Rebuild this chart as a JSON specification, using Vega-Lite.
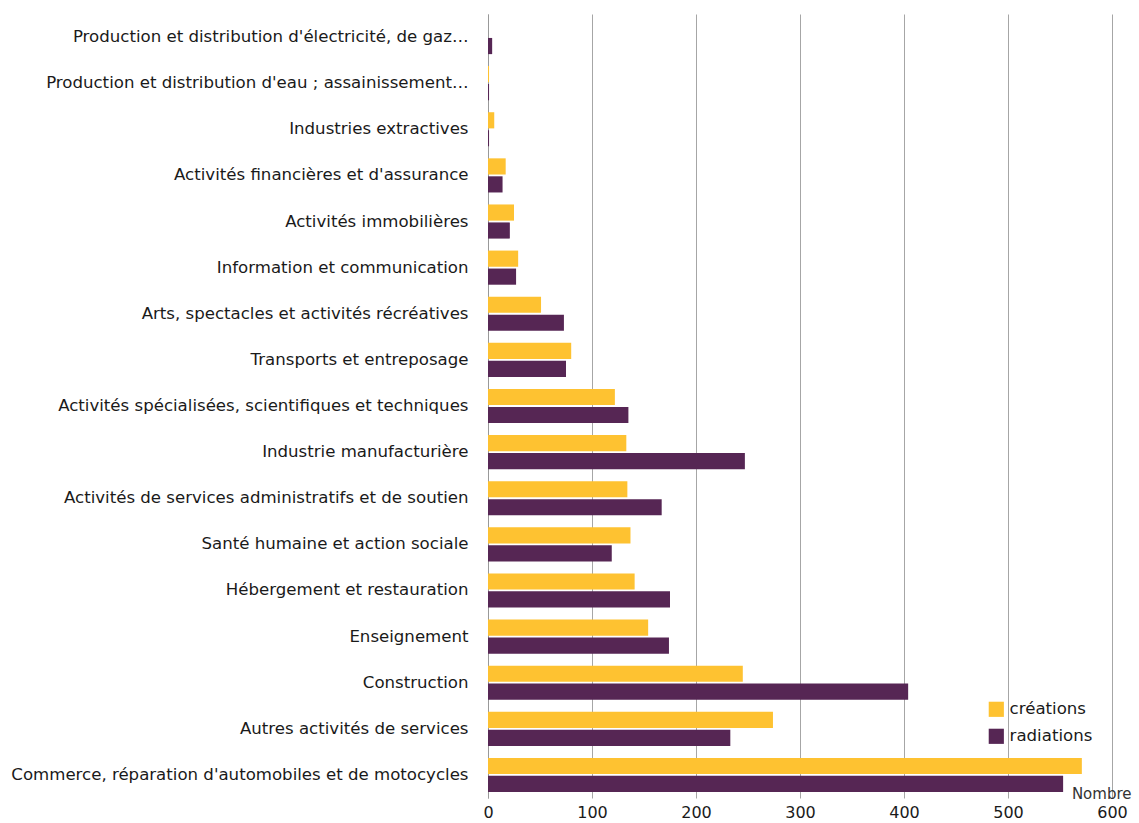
{
  "$schema": "https://vega.github.io/schema/vega-lite/v6.json",
  "width": 624,
  "height": 784,
  "autosize": {"type": "none"},
  "padding": {"left": 488, "top": 14, "right": 27, "bottom": 25},
  "background": "white",
  "data": {
    "values": [
      {"secteur": "Production et distribution d'électricité, de gaz…", "type": "créations", "nombre": 0},
      {"secteur": "Production et distribution d'électricité, de gaz…", "type": "radiations", "nombre": 4},
      {"secteur": "Production et distribution d'eau ; assainissement…", "type": "créations", "nombre": 1},
      {"secteur": "Production et distribution d'eau ; assainissement…", "type": "radiations", "nombre": 1},
      {"secteur": "Industries extractives", "type": "créations", "nombre": 6},
      {"secteur": "Industries extractives", "type": "radiations", "nombre": 1},
      {"secteur": "Activités financières et d'assurance", "type": "créations", "nombre": 17},
      {"secteur": "Activités financières et d'assurance", "type": "radiations", "nombre": 14},
      {"secteur": "Activités immobilières", "type": "créations", "nombre": 25},
      {"secteur": "Activités immobilières", "type": "radiations", "nombre": 21},
      {"secteur": "Information et communication", "type": "créations", "nombre": 29},
      {"secteur": "Information et communication", "type": "radiations", "nombre": 27},
      {"secteur": "Arts, spectacles et activités récréatives", "type": "créations", "nombre": 51},
      {"secteur": "Arts, spectacles et activités récréatives", "type": "radiations", "nombre": 73},
      {"secteur": "Transports et entreposage", "type": "créations", "nombre": 80},
      {"secteur": "Transports et entreposage", "type": "radiations", "nombre": 75},
      {"secteur": "Activités spécialisées, scientifiques et techniques", "type": "créations", "nombre": 122},
      {"secteur": "Activités spécialisées, scientifiques et techniques", "type": "radiations", "nombre": 135},
      {"secteur": "Industrie manufacturière", "type": "créations", "nombre": 133},
      {"secteur": "Industrie manufacturière", "type": "radiations", "nombre": 247},
      {"secteur": "Activités de services administratifs et de soutien", "type": "créations", "nombre": 134},
      {"secteur": "Activités de services administratifs et de soutien", "type": "radiations", "nombre": 167},
      {"secteur": "Santé humaine et action sociale", "type": "créations", "nombre": 137},
      {"secteur": "Santé humaine et action sociale", "type": "radiations", "nombre": 119},
      {"secteur": "Hébergement et restauration", "type": "créations", "nombre": 141},
      {"secteur": "Hébergement et restauration", "type": "radiations", "nombre": 175},
      {"secteur": "Enseignement", "type": "créations", "nombre": 154},
      {"secteur": "Enseignement", "type": "radiations", "nombre": 174},
      {"secteur": "Construction", "type": "créations", "nombre": 245},
      {"secteur": "Construction", "type": "radiations", "nombre": 404},
      {"secteur": "Autres activités de services", "type": "créations", "nombre": 274},
      {"secteur": "Autres activités de services", "type": "radiations", "nombre": 233},
      {"secteur": "Commerce, réparation d'automobiles et de motocycles", "type": "créations", "nombre": 571},
      {"secteur": "Commerce, réparation d'automobiles et de motocycles", "type": "radiations", "nombre": 553}
    ]
  },
  "mark": {"type": "bar"},
  "encoding": {
    "y": {
      "field": "secteur",
      "type": "nominal",
      "sort": null,
      "title": null,
      "scale": {"paddingInner": 0.26, "paddingOuter": 0.13},
      "axis": {
        "domain": true,
        "domainColor": "#999999",
        "ticks": false,
        "grid": false,
        "labelPadding": 20,
        "labelLimit": 0,
        "labelFontSize": 16.6,
        "labelColor": "#1a1a1a",
        "labelFont": "DejaVu Sans"
      }
    },
    "yOffset": {
      "field": "type",
      "type": "nominal",
      "scale": {"paddingInner": 0.1}
    },
    "x": {
      "field": "nombre",
      "type": "quantitative",
      "title": "Nombre",
      "scale": {"domain": [0, 600], "nice": false},
      "axis": {
        "values": [0, 100, 200, 300, 400, 500, 600],
        "grid": true,
        "gridColor": "#a6a6a6",
        "domain": false,
        "ticks": false,
        "labelFlush": false,
        "labelPadding": 6,
        "labelFontSize": 16,
        "labelColor": "#1a1a1a",
        "labelFont": "DejaVu Sans",
        "titleFont": "DejaVu Sans",
        "titleFontSize": 15,
        "titleFontWeight": "normal",
        "titleColor": "#333333",
        "titleAnchor": "end",
        "titleAlign": "right",
        "titleX": 643,
        "titleY": -5,
        "titleBaseline": "middle"
      }
    },
    "color": {
      "field": "type",
      "type": "nominal",
      "scale": {"domain": ["créations", "radiations"], "range": ["#FEC231", "#562654"]},
      "legend": {
        "title": null,
        "orient": "none",
        "legendX": 500,
        "legendY": 687,
        "symbolType": "square",
        "symbolSize": 230,
        "symbolStrokeWidth": 0,
        "labelFontSize": 16.6,
        "labelFont": "DejaVu Sans",
        "labelColor": "#1a1a1a",
        "rowPadding": 10,
        "labelOffset": 5
      }
    }
  },
  "config": {
    "view": {"stroke": null}
  }
}
